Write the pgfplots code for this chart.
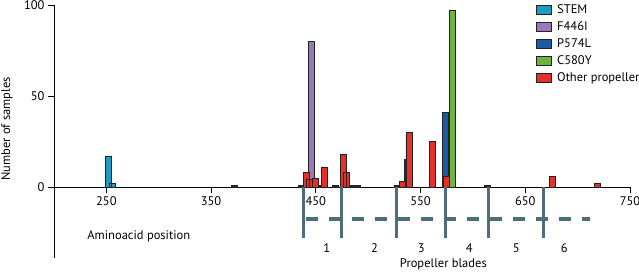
\documentclass[border=0pt]{standalone}
\usepackage{pgfplots}
\pgfplotsset{compat=1.18}
\usepackage{fontspec}
\setmainfont{PT Sans}
\definecolor{stem}{HTML}{1E9BC0}
\definecolor{fpurple}{HTML}{9A79BA}
\definecolor{pblue}{HTML}{1B5AA5}
\definecolor{cgreen}{HTML}{6CB33F}
\definecolor{ored}{HTML}{E3302A}
\definecolor{darkbar}{HTML}{3B2222}
\definecolor{slate}{HTML}{4D6D7A}
\definecolor{edge}{HTML}{222222}
\begin{document}
\begin{tikzpicture}
\pgfplotsset{
  mybar/.style={ybar, bar shift=0pt, bar width=5.8, draw=edge, line width=0.75pt,
    legend image code/.code={\draw[##1, line width=0.75pt] (0pt,-4.5pt) rectangle (15pt,4.5pt);
      \path (19pt,0pt);}},
}
\begin{axis}[
  width=576pt, height=253pt, scale only axis,
  xmin=200, xmax=750, ymin=-39, ymax=100,
  axis x line*=middle, axis y line*=left,
  xtick={250,350,450,550,650,750}, ytick={0,50,100},
  tick align=outside, major tick length=6pt,
  tick style={black, line width=0.8pt},
  axis line style={black, line width=0.9pt},
  ticklabel style={font=\fontsize{12.5}{12.5}\selectfont},
  /pgf/number format/assume math mode=true,
  /pgf/number format/1000 sep={},
  hide obscured y ticks=false, hide obscured x ticks=false,
  clip=false,
  legend style={at={(axis cs:660,101)}, anchor=north west, draw=none, fill=none,
    font=\fontsize{12.5}{12.5}\selectfont, row sep=3.6pt, inner sep=0pt,
    nodes={inner sep=1.5pt}},
  legend cell align=left,
]
% small dark bars (not in legend)
\addplot[mybar, fill=darkbar, forget plot] coordinates {
 (372,1) (436,1) (452,1) (469,1) (484,1) (490,1) (527.5,1) (537.6,15) (614,1)};
\addplot[mybar, fill=stem] coordinates {(252,17) (255.5,2)};
\addplot[mybar, fill=fpurple] coordinates {(446,80)};
\addplot[mybar, fill=pblue] coordinates {(574,41)};
\addplot[mybar, fill=cgreen] coordinates {(580,97)};
\addplot[mybar, fill=ored] coordinates {
 (440.7,8) (444,4) (449.3,5) (458,11) (476.5,18) (479,8) (533,3) (539,30)
 (561.5,25) (574.4,6) (676,6) (719,2)};
\legend{STEM, F446I, P574L, C580Y, Other propeller}
% propeller blade schematic
\pgfplotsinvokeforeach{438,474.7,526.6,574.1,614.8,667.3}{
  \draw[slate, line width=3pt] (axis cs:#1,0) -- (axis cs:#1,-28);
}
\draw[slate, line width=4pt, dash pattern=on 12pt off 11pt] (axis cs:441,-17.6) -- (axis cs:712,-17.6);
\node[font=\fontsize{12.5}{12.5}\selectfont] at (axis cs:460.4,-33.5) {1};
\node[font=\fontsize{12.5}{12.5}\selectfont] at (axis cs:506,-33.5) {2};
\node[font=\fontsize{12.5}{12.5}\selectfont] at (axis cs:550.7,-33.5) {3};
\node[font=\fontsize{12.5}{12.5}\selectfont] at (axis cs:596.6,-33.5) {4};
\node[font=\fontsize{12.5}{12.5}\selectfont] at (axis cs:641.5,-33.5) {5};
\node[font=\fontsize{12.5}{12.5}\selectfont] at (axis cs:687.3,-33.5) {6};
\node[font=\fontsize{12.5}{12.5}\selectfont] at (axis cs:571.8,-42.5) {Propeller blades};
\node[font=\fontsize{12.5}{12.5}\selectfont] at (axis cs:281,-27) {Aminoacid position};
\node[font=\fontsize{12.5}{12.5}\selectfont, rotate=90] at ([xshift=-47pt]axis description cs:0,0.51) {Number of samples};
\end{axis}
\pgfresetboundingbox
\path[use as bounding box] (-54pt,-16pt) rectangle (585pt,258pt);
\end{tikzpicture}
\end{document}
